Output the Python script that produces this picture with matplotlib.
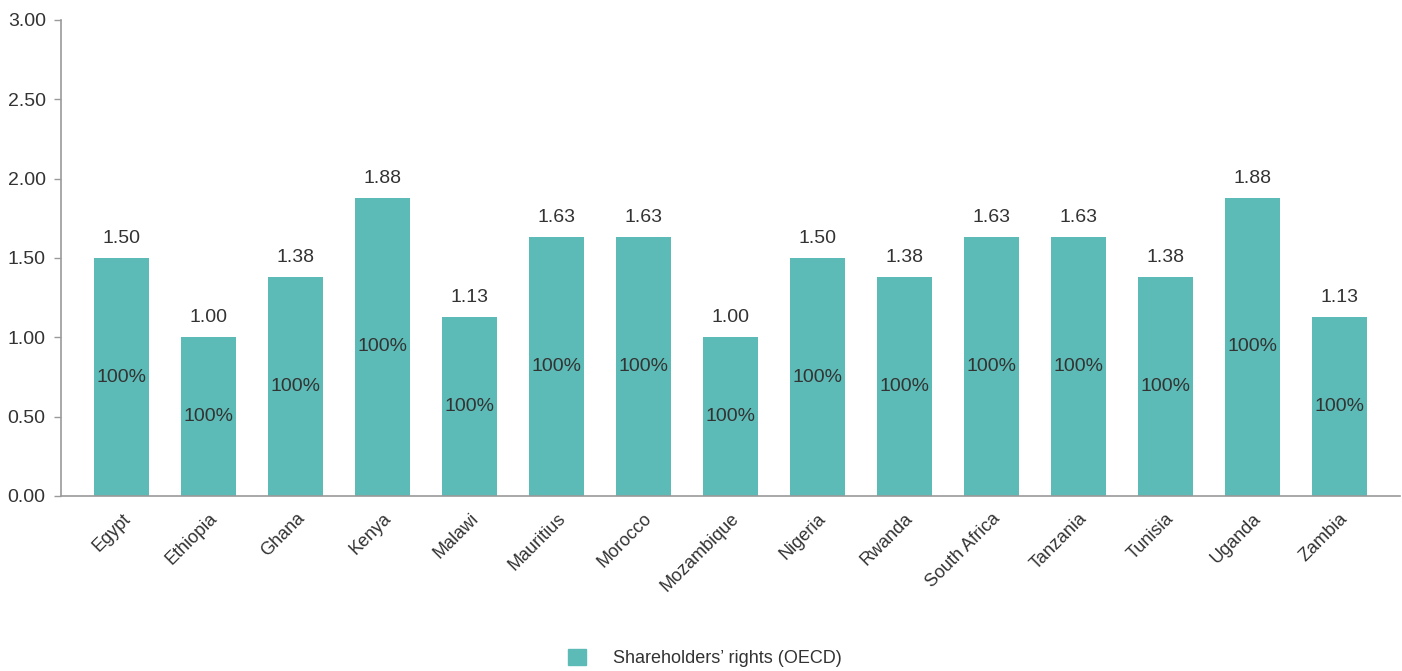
import numpy as np
import matplotlib.pyplot as plt
from matplotlib.patches import Patch

countries = ['Egypt', 'Ethiopia', 'Ghana', 'Kenya', 'Malawi', 'Mauritius', 'Morocco',
             'Mozambique', 'Nigeria', 'Rwanda', 'South Africa', 'Tanzania', 'Tunisia',
             'Uganda', 'Zambia']
scores = [1.50, 1.00, 1.38, 1.88, 1.13, 1.63, 1.63, 1.00, 1.50, 1.38, 1.63, 1.63, 1.38, 1.88, 1.13]
shares = [100] * len(countries)
yticks = [0.0, 0.5, 1.0, 1.5, 2.0, 2.5, 3.0]

plt.rcParams['font.family'] = ['Liberation Sans', 'DejaVu Sans']
col = '#5cbbb6'
txt = '#333333'
grey = '#9a9a9a'

fig = plt.figure(figsize=(14.02, 6.71), dpi=100)
ax = fig.add_axes([61/1402, 1 - 496/671, 1339/1402, 476/671])

x = np.arange(len(countries))
ax.bar(x, scores, width=0.63, color=col, zorder=2)

for xi, v, s in zip(x, scores, shares):
    ax.text(xi, v + 0.07, f'{v:.2f}', ha='center', va='bottom', fontsize=14, color=txt)
    ax.text(xi, v / 2, f'{s}%', ha='center', va='center', fontsize=14, color=txt)

ax.set_xlim(-0.7, len(countries) - 0.3)
ax.set_ylim(0, 3)
ax.set_yticks(yticks)
ax.set_yticklabels([f'{t:.2f}' for t in yticks], fontsize=14, color=txt)
ax.set_xticks(x)
ax.set_xticklabels(countries, rotation=45, ha='right', rotation_mode='anchor',
                   fontsize=13, color=txt)
ax.tick_params(axis='x', length=0, pad=10)
ax.tick_params(axis='y', length=5, color=grey, width=1, pad=6)

for side in ['top', 'right']:
    ax.spines[side].set_visible(False)
for side in ['left', 'bottom']:
    ax.spines[side].set_color(grey)
    ax.spines[side].set_linewidth(1.2)

fig.legend(handles=[Patch(color=col, label='Shareholders\u2019 rights (OECD)')],
           loc='center', bbox_to_anchor=(705/1402, 1 - 658/671), frameon=False,
           fontsize=13, handlelength=1.0, handleheight=1.0, handletextpad=1.5,
           labelcolor=txt)

fig.savefig('out.png', dpi=100)
